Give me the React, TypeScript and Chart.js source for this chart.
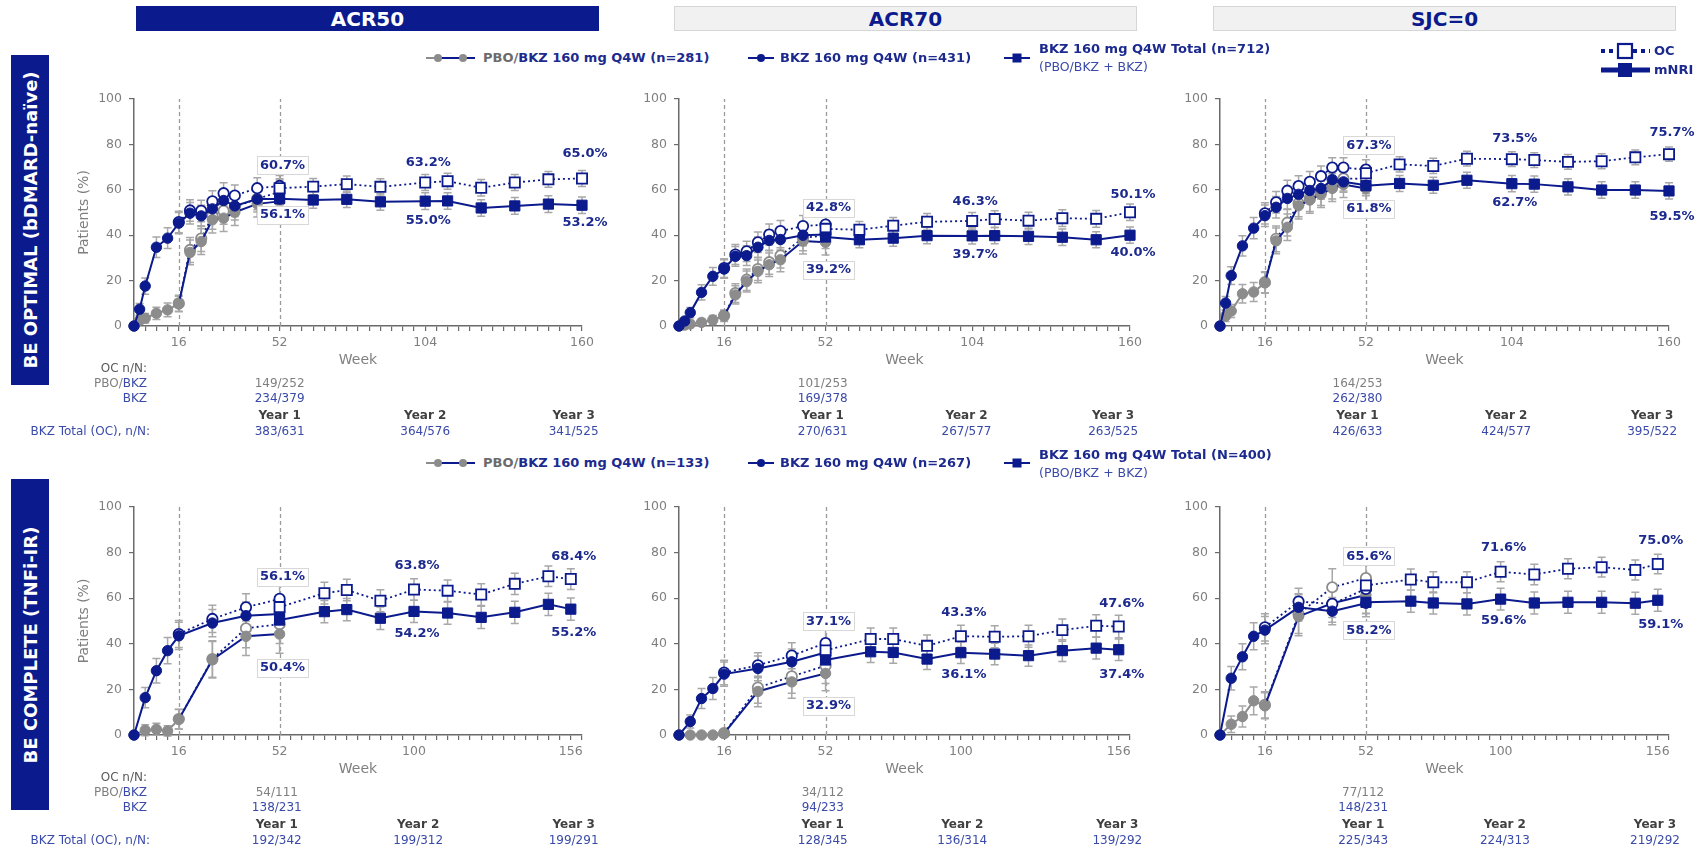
import React, { useEffect, useRef } from 'react';
import { Chart, registerables } from 'chart.js';

Chart.register(...registerables);

const NAVY = '#0b1a8c';
const NAVY_TEXT = '#1c2a8e';
const TABLE_BLUE = '#3a4aa8';
const GRAY_MARK = '#8c8c8c';
const GRAY_ERR = '#a8a8a8';
const GRAY_TEXT = '#7f7f7f';
const AXIS_COLOR = '#6a6a6a';
const FONT = "'DejaVu Sans', Verdana, sans-serif";

// ---------- weeks ----------
const WEEKS_OPT = [0, 2, 4, 8, 12, 16, 20, 24, 28, 32, 36, 44, 52];
const WEEKS_OPT_SJC = [0, 2, 4, 8, 12, 16, 20, 24, 28, 32, 36, 40, 44, 52];
const WEEKS_OPT_TOTAL = [52, 64, 76, 88, 104, 112, 124, 136, 148, 160];
const WEEKS_COMP = [0, 4, 8, 12, 16, 28, 40, 52];
const WEEKS_COMP_TOTAL = [52, 68, 76, 88, 100, 112, 124, 136, 148, 156];

const X_LABELS_OPT = [16, 52, 104, 160];
const X_LABELS_COMP = [16, 52, 100, 156];
const LABEL_WEEKS_OPT = [52, 104, 160];
const LABEL_WEEKS_COMP = [52, 100, 156];
const DASH_WEEKS = [16, 52];
const YEAR_NAMES = ['Year 1', 'Year 2', 'Year 3'];

// group sizes: PBO/BKZ, BKZ, Total
const N_OPT = [281, 431, 712];
const N_COMP = [133, 267, 400];

// ---------- BE OPTIMAL : ACR50 ----------
const OPT_ACR50_PBO_NRI = [0, 2.6, 3.4, 5.6, 7.1, 9.7, 32.4, 37.2, 46.8, 47.5, 50.1, 53.8, 54.9];
const OPT_ACR50_PBO_OC = [null, null, null, null, null, 10.0, 33.5, 38.5, 48.5, 50.7, 52.5, 56.0, 59.1];
const OPT_ACR50_BKZ_NRI = [0, 7.4, 17.6, 34.7, 38.7, 45.3, 49.7, 48.5, 51.6, 55.3, 52.9, 55.9, 55.9];
const OPT_ACR50_BKZ_OC = [null, null, null, null, null, 45.8, 50.9, 50.7, 54.9, 58.5, 57.5, 60.7, 61.7];
const OPT_ACR50_TOT_OC = [60.7, 61.4, 62.5, 61.3, 63.2, 63.8, 60.9, 63.2, 64.6, 65.0];
const OPT_ACR50_TOT_NRI = [56.1, 55.5, 55.8, 54.7, 55.0, 55.1, 52.0, 52.9, 53.7, 53.2];
const OPT_ACR50_OC52 = ['149/252', '234/379'];
const OPT_ACR50_YEARS = ['383/631', '364/576', '341/525'];

// ---------- BE OPTIMAL : ACR70 ----------
const OPT_ACR70_PBO_NRI = [0, 0.4, 0.9, 1.6, 2.7, 4.4, 13.7, 19.6, 24.1, 27.0, 29.2, 37.4, 36.9];
const OPT_ACR70_PBO_OC = [null, null, null, null, null, 4.6, 14.5, 20.4, 25.1, 28.1, 31.0, 38.8, 39.9];
const OPT_ACR70_BKZ_NRI = [0, 2.2, 5.9, 14.8, 21.9, 25.1, 30.7, 31.0, 34.7, 37.7, 38.1, 40.0, 40.3];
const OPT_ACR70_BKZ_OC = [null, null, null, null, null, 25.5, 31.5, 32.9, 36.9, 40.3, 41.8, 44.0, 44.7];
const OPT_ACR70_TOT_OC = [42.8, 42.4, 44.2, 45.9, 46.3, 47.1, 46.4, 47.5, 47.2, 50.1];
const OPT_ACR70_TOT_NRI = [39.2, 38.0, 38.7, 39.8, 39.7, 39.8, 39.5, 39.1, 38.0, 40.0];
const OPT_ACR70_OC52 = ['101/253', '169/378'];
const OPT_ACR70_YEARS = ['270/631', '267/577', '263/525'];

// ---------- BE OPTIMAL : SJC=0 ----------
const OPT_SJC_PBO_NRI = [0, 4.4, 6.6, 14.2, 15.0, 19.0, 37.5, 43.5, 53.0, 55.5, 58.0, 60.6, 62.3, 60.6];
const OPT_SJC_PBO_OC = [null, null, null, null, null, 19.3, 38.4, 45.5, 54.0, 56.2, 58.8, 61.6, 65.0, 64.8];
const OPT_SJC_BKZ_NRI = [0, 10.1, 22.2, 35.3, 43.1, 48.6, 52.3, 56.2, 58.0, 59.7, 60.6, 64.5, 63.5, 62.0];
const OPT_SJC_BKZ_OC = [null, null, null, null, null, 49.6, 54.5, 59.6, 61.6, 63.5, 66.0, 69.8, 69.8, 68.9];
const OPT_SJC_TOT_OC = [67.3, 71.2, 70.5, 73.7, 73.5, 73.1, 72.3, 72.6, 74.3, 75.7];
const OPT_SJC_TOT_NRI = [61.8, 62.8, 62.0, 64.2, 62.7, 62.5, 61.3, 59.9, 59.9, 59.5];
const OPT_SJC_OC52 = ['164/253', '262/380'];
const OPT_SJC_YEARS = ['426/633', '424/577', '395/522'];

// ---------- BE COMPLETE : ACR50 ----------
const COMP_ACR50_PBO_NRI = [0, 2.1, 2.5, 1.8, 6.9, 33.0, 43.3, 44.3];
const COMP_ACR50_PBO_OC = [null, null, null, null, 7.0, 33.3, 46.8, 48.6];
const COMP_ACR50_BKZ_NRI = [0, 16.4, 28.2, 37.0, 43.5, 49.1, 52.3, 53.1];
const COMP_ACR50_BKZ_OC = [null, null, null, null, 44.3, 50.9, 56.0, 59.7];
const COMP_ACR50_TOT_OC = [56.1, 62.2, 63.6, 58.9, 63.8, 63.3, 61.6, 66.3, 69.6, 68.4];
const COMP_ACR50_TOT_NRI = [50.4, 54.1, 55.0, 51.2, 54.2, 53.5, 51.6, 53.8, 57.3, 55.2];
const COMP_ACR50_OC52 = ['54/111', '138/231'];
const COMP_ACR50_YEARS = ['192/342', '199/312', '199/291'];

// ---------- BE COMPLETE : ACR70 ----------
const COMP_ACR70_PBO_NRI = [0, 0, 0, 0, 0.7, 19.1, 23.3, 27.0];
const COMP_ACR70_PBO_OC = [null, null, null, null, 0.8, 20.8, 25.7, 30.4];
const COMP_ACR70_BKZ_NRI = [0, 5.9, 16.0, 20.4, 26.7, 29.2, 32.1, 36.2];
const COMP_ACR70_BKZ_OC = [null, null, null, null, 27.4, 30.6, 34.8, 40.3];
const COMP_ACR70_TOT_OC = [37.1, 42.1, 42.1, 39.1, 43.3, 43.1, 43.3, 46.0, 47.9, 47.6];
const COMP_ACR70_TOT_NRI = [32.9, 36.5, 36.2, 33.3, 36.1, 35.5, 34.8, 37.0, 38.1, 37.4];
const COMP_ACR70_OC52 = ['34/112', '94/233'];
const COMP_ACR70_YEARS = ['128/345', '136/314', '139/292'];

// ---------- BE COMPLETE : SJC=0 ----------
const COMP_SJC_PBO_NRI = [0, 4.7, 8.1, 15.0, 12.8, 52.0, 57.8, 61.4];
const COMP_SJC_PBO_OC = [null, null, null, null, 13.2, 53.0, 64.8, 68.8];
const COMP_SJC_BKZ_NRI = [0, 24.9, 34.3, 43.3, 46.0, 56.0, 54.3, 57.8];
const COMP_SJC_BKZ_OC = [null, null, null, null, 47.2, 58.5, 57.5, 64.1];
const COMP_SJC_TOT_OC = [65.6, 68.2, 67.0, 67.0, 71.6, 70.4, 72.9, 73.6, 72.4, 75.0];
const COMP_SJC_TOT_NRI = [58.2, 58.7, 57.9, 57.5, 59.6, 57.9, 58.2, 58.2, 57.8, 59.1];
const COMP_SJC_OC52 = ['77/112', '148/231'];
const COMP_SJC_YEARS = ['225/343', '224/313', '219/292'];

type Vals = (number | null)[];
type PanelDef = {
  id: string;
  plotLeft: number; plotTop: number; plotW: number; plotH: number;
  yAxisW: number; rightPad: number; isLeft: boolean;
  weeks: number[]; totWeeks: number[];
  pboNri: Vals; pboOc: Vals; bkzNri: Vals; bkzOc: Vals; totOc: Vals; totNri: Vals;
  n: number[]; xLabels: number[]; labelWeeks: number[]; labelDy: number[][];
  oc52: string[]; years: string[]; yearX: number[];
};

const TOP_Y = 99, TOP_H = 227, BOT_Y = 507, BOT_H = 228;

const PANELS: PanelDef[] = [
  { id: 'a', plotLeft: 134, plotTop: TOP_Y, plotW: 448, plotH: TOP_H, yAxisW: 134, rightPad: 50, isLeft: true,
    weeks: WEEKS_OPT, totWeeks: WEEKS_OPT_TOTAL,
    pboNri: OPT_ACR50_PBO_NRI, pboOc: OPT_ACR50_PBO_OC, bkzNri: OPT_ACR50_BKZ_NRI, bkzOc: OPT_ACR50_BKZ_OC,
    totOc: OPT_ACR50_TOT_OC, totNri: OPT_ACR50_TOT_NRI, n: N_OPT, xLabels: X_LABELS_OPT,
    labelWeeks: LABEL_WEEKS_OPT, labelDy: [[-23, 16], [-20, 19], [-25, 17]],
    oc52: OPT_ACR50_OC52, years: OPT_ACR50_YEARS, yearX: [52, 104, 157] },
  { id: 'b', plotLeft: 679, plotTop: TOP_Y, plotW: 451, plotH: TOP_H, yAxisW: 70, rightPad: 50, isLeft: false,
    weeks: WEEKS_OPT, totWeeks: WEEKS_OPT_TOTAL,
    pboNri: OPT_ACR70_PBO_NRI, pboOc: OPT_ACR70_PBO_OC, bkzNri: OPT_ACR70_BKZ_NRI, bkzOc: OPT_ACR70_BKZ_OC,
    totOc: OPT_ACR70_TOT_OC, totNri: OPT_ACR70_TOT_NRI, n: N_OPT, xLabels: X_LABELS_OPT,
    labelWeeks: LABEL_WEEKS_OPT, labelDy: [[-21, 33], [-19.5, 19], [-18, 17]],
    oc52: OPT_ACR70_OC52, years: OPT_ACR70_YEARS, yearX: [51, 102, 154] },
  { id: 'c', plotLeft: 1220, plotTop: TOP_Y, plotW: 449, plotH: TOP_H, yAxisW: 70, rightPad: 35, isLeft: false,
    weeks: WEEKS_OPT_SJC, totWeeks: WEEKS_OPT_TOTAL,
    pboNri: OPT_SJC_PBO_NRI, pboOc: OPT_SJC_PBO_OC, bkzNri: OPT_SJC_BKZ_NRI, bkzOc: OPT_SJC_BKZ_OC,
    totOc: OPT_SJC_TOT_OC, totNri: OPT_SJC_TOT_NRI, n: N_OPT, xLabels: X_LABELS_OPT,
    labelWeeks: LABEL_WEEKS_OPT, labelDy: [[-28, 23], [-21, 19], [-21.5, 26]],
    oc52: OPT_SJC_OC52, years: OPT_SJC_YEARS, yearX: [49, 102, 154] },
  { id: 'd', plotLeft: 134, plotTop: BOT_Y, plotW: 448, plotH: BOT_H, yAxisW: 134, rightPad: 50, isLeft: true,
    weeks: WEEKS_COMP, totWeeks: WEEKS_COMP_TOTAL,
    pboNri: COMP_ACR50_PBO_NRI, pboOc: COMP_ACR50_PBO_OC, bkzNri: COMP_ACR50_BKZ_NRI, bkzOc: COMP_ACR50_BKZ_OC,
    totOc: COMP_ACR50_TOT_OC, totNri: COMP_ACR50_TOT_NRI, n: N_COMP, xLabels: X_LABELS_COMP,
    labelWeeks: LABEL_WEEKS_COMP, labelDy: [[-30, 48], [-24, 22.5], [-22, 23.5]],
    oc52: COMP_ACR50_OC52, years: COMP_ACR50_YEARS, yearX: [51, 101.5, 157] },
  { id: 'e', plotLeft: 679, plotTop: BOT_Y, plotW: 451, plotH: BOT_H, yAxisW: 70, rightPad: 50, isLeft: false,
    weeks: WEEKS_COMP, totWeeks: WEEKS_COMP_TOTAL,
    pboNri: COMP_ACR70_PBO_NRI, pboOc: COMP_ACR70_PBO_OC, bkzNri: COMP_ACR70_BKZ_NRI, bkzOc: COMP_ACR70_BKZ_OC,
    totOc: COMP_ACR70_TOT_OC, totNri: COMP_ACR70_TOT_NRI, n: N_COMP, xLabels: X_LABELS_COMP,
    labelWeeks: LABEL_WEEKS_COMP, labelDy: [[-29, 46], [-23.5, 22], [-23, 24.5]],
    oc52: COMP_ACR70_OC52, years: COMP_ACR70_YEARS, yearX: [51, 100.5, 155.5] },
  { id: 'f', plotLeft: 1220, plotTop: BOT_Y, plotW: 449, plotH: BOT_H, yAxisW: 70, rightPad: 35, isLeft: false,
    weeks: WEEKS_COMP, totWeeks: WEEKS_COMP_TOTAL,
    pboNri: COMP_SJC_PBO_NRI, pboOc: COMP_SJC_PBO_OC, bkzNri: COMP_SJC_BKZ_NRI, bkzOc: COMP_SJC_BKZ_OC,
    totOc: COMP_SJC_TOT_OC, totNri: COMP_SJC_TOT_NRI, n: N_COMP, xLabels: X_LABELS_COMP,
    labelWeeks: LABEL_WEEKS_COMP, labelDy: [[-29, 28], [-24.5, 22], [-23, 24]],
    oc52: COMP_SJC_OC52, years: COMP_SJC_YEARS, yearX: [51, 101.5, 155] },
];

const TOP_PAD = 30;
const XAXIS_H = 115;

function pts(weeks: number[], vals: Vals) {
  const out: { x: number; y: number }[] = [];
  weeks.forEach((w, i) => {
    const v = vals[i];
    if (v !== null && v !== undefined) out.push({ x: w, y: v });
  });
  return out;
}

const X_TICKS: number[] = [];
for (let w = 0; w <= 160; w += 4) X_TICKS.push(w);

function makePlugin(p: PanelDef, canvasLeft: number) {
  return {
    id: 'decor_' + p.id,
    beforeDatasetsDraw(chart: any) {
      const { ctx, scales } = chart;
      const x = scales.x, y = scales.y;
      ctx.save();
      ctx.strokeStyle = '#9a9a9a';
      ctx.lineWidth = 1.3;
      ctx.setLineDash([4, 3]);
      DASH_WEEKS.forEach((w) => {
        const px = Math.round(x.getPixelForValue(w)) + 0.5;
        ctx.beginPath();
        ctx.moveTo(px, y.getPixelForValue(0));
        ctx.lineTo(px, y.getPixelForValue(100));
        ctx.stroke();
      });
      ctx.setLineDash([]);
      ctx.strokeStyle = GRAY_ERR;
      ctx.lineWidth = 1.5;
      chart.data.datasets.forEach((ds: any, i: number) => {
        const meta = chart.getDatasetMeta(i);
        meta.data.forEach((el: any, j: number) => {
          const v = ds.data[j].y;
          const pr = v / 100;
          const h = 196 * Math.sqrt((pr * (1 - pr)) / ds.nSize);
          if (!(h > 0.3)) return;
          const px = el.x;
          const y1 = y.getPixelForValue(v - h);
          const y2 = y.getPixelForValue(v + h);
          ctx.beginPath();
          ctx.moveTo(px, y1); ctx.lineTo(px, y2);
          ctx.moveTo(px - 4, y1); ctx.lineTo(px + 4, y1);
          ctx.moveTo(px - 4, y2); ctx.lineTo(px + 4, y2);
          ctx.stroke();
        });
      });
      ctx.restore();
    },
    afterDatasetsDraw(chart: any) {
      const { ctx, scales } = chart;
      const x = scales.x, y = scales.y;
      ctx.save();
      ctx.font = `bold 13px ${FONT}`;
      ctx.textAlign = 'center';
      ctx.textBaseline = 'middle';
      p.labelWeeks.forEach((w, k) => {
        const idx = p.totWeeks.indexOf(w);
        const pair = [p.totOc[idx] as number, p.totNri[idx] as number];
        pair.forEach((v, m) => {
          const t = v.toFixed(1) + '%';
          const px = x.getPixelForValue(w) + 3;
          const py = y.getPixelForValue(v) + p.labelDy[k][m];
          if (w === 52) {
            const tw = ctx.measureText(t).width;
            ctx.fillStyle = '#ffffff';
            ctx.fillRect(px - tw / 2 - 3, py - 9, tw + 6, 18);
            ctx.strokeStyle = '#d8d8d8';
            ctx.lineWidth = 1;
            ctx.strokeRect(Math.round(px - tw / 2 - 3) + 0.5, Math.round(py - 9) + 0.5, Math.round(tw + 6), 18);
          }
          ctx.fillStyle = NAVY_TEXT;
          ctx.fillText(t, px, py);
        });
      });
      ctx.restore();
    },
    afterDraw(chart: any) {
      const { ctx, chartArea: a, scales } = chart;
      const x = scales.x;
      const b = a.bottom;
      ctx.save();
      ctx.textBaseline = 'middle';
      ctx.textAlign = 'center';
      ctx.font = `14px ${FONT}`;
      ctx.fillStyle = GRAY_TEXT;
      ctx.fillText('Week', (a.left + a.right) / 2, b + 34);
      if (p.isLeft) {
        ctx.save();
        ctx.translate(84 - canvasLeft, (a.top + a.bottom) / 2);
        ctx.rotate(-Math.PI / 2);
        ctx.fillText('Patients (%)', 0, 0);
        ctx.restore();
        ctx.font = `12px ${FONT}`;
        ctx.textAlign = 'right';
        const rx = 147 - canvasLeft;
        ctx.fillStyle = '#595959';
        ctx.fillText('OC n/N:', rx, b + 43);
        ctx.fillStyle = TABLE_BLUE;
        ctx.fillText('BKZ', rx, b + 57.5);
        const wB = ctx.measureText('BKZ').width;
        ctx.fillStyle = GRAY_TEXT;
        ctx.fillText('PBO/', rx - wB, b + 57.5);
        ctx.fillStyle = TABLE_BLUE;
        ctx.fillText('BKZ', rx, b + 73);
        ctx.fillText('BKZ Total (OC), n/N:', 150 - canvasLeft, b + 105.5);
      }
      ctx.textAlign = 'center';
      ctx.font = `12px ${FONT}`;
      const x1 = x.getPixelForValue(p.yearX[0]);
      ctx.fillStyle = GRAY_TEXT;
      ctx.fillText(p.oc52[0], x1, b + 57.5);
      ctx.fillStyle = TABLE_BLUE;
      ctx.fillText(p.oc52[1], x1, b + 73);
      YEAR_NAMES.forEach((nm, i) => {
        const xi = x.getPixelForValue(p.yearX[i]);
        ctx.font = `bold 12px ${FONT}`;
        ctx.fillStyle = '#404040';
        ctx.fillText(nm, xi, b + 89.5);
        ctx.font = `12px ${FONT}`;
        ctx.fillStyle = TABLE_BLUE;
        ctx.fillText(p.years[i], xi, b + 105.5);
      });
      ctx.restore();
    },
  };
}

function PanelChart({ p }: { p: PanelDef }) {
  const ref = useRef<HTMLCanvasElement>(null);
  const left = p.plotLeft - p.yAxisW;
  const top = p.plotTop - TOP_PAD;
  const width = p.yAxisW + p.plotW + p.rightPad;
  const height = TOP_PAD + p.plotH + XAXIS_H;

  useEffect(() => {
    if (!ref.current) return;
    const segColor = (c: any) => (c.p0.parsed.x >= 16 ? NAVY : GRAY_MARK);
    const common = { tension: 0, clip: false as any, spanGaps: false };
    const R = 5.2;
    const datasets: any[] = [
      { ...common, label: 'Total mNRI', data: pts(p.totWeeks, p.totNri), borderColor: NAVY, borderWidth: 2,
        pointStyle: 'rect', pointRadius: 7.2, pointBackgroundColor: NAVY, pointBorderColor: NAVY, pointBorderWidth: 1,
        order: 0, nSize: p.n[2] },
      { ...common, label: 'Total OC', data: pts(p.totWeeks, p.totOc), borderColor: NAVY, borderWidth: 1.8, borderDash: [2, 3],
        pointStyle: 'rect', pointRadius: 7.2, pointBackgroundColor: '#ffffff', pointBorderColor: NAVY, pointBorderWidth: 1.8,
        order: 1, nSize: p.n[2] },
      { ...common, label: 'BKZ mNRI', data: pts(p.weeks, p.bkzNri), borderColor: NAVY, borderWidth: 2,
        pointStyle: 'circle', pointRadius: R, pointBackgroundColor: NAVY, pointBorderColor: NAVY, pointBorderWidth: 1,
        order: 2, nSize: p.n[1] },
      { ...common, label: 'BKZ OC', data: pts(p.weeks, p.bkzOc), borderColor: NAVY, borderWidth: 1.8, borderDash: [2, 3],
        pointStyle: 'circle', pointRadius: R, pointBackgroundColor: '#ffffff', pointBorderColor: NAVY, pointBorderWidth: 1.8,
        order: 3, nSize: p.n[1] },
      { ...common, label: 'PBO/BKZ mNRI', data: pts(p.weeks, p.pboNri), borderColor: GRAY_MARK, borderWidth: 2,
        segment: { borderColor: segColor },
        pointStyle: 'circle', pointRadius: R, pointBackgroundColor: GRAY_MARK, pointBorderColor: GRAY_MARK, pointBorderWidth: 1,
        order: 4, nSize: p.n[0] },
      { ...common, label: 'PBO/BKZ OC', data: pts(p.weeks, p.pboOc), borderColor: GRAY_MARK, borderWidth: 1.8, borderDash: [2, 3],
        segment: { borderColor: segColor },
        pointStyle: 'circle', pointRadius: R, pointBackgroundColor: '#ffffff', pointBorderColor: GRAY_MARK, pointBorderWidth: 1.8,
        order: 5, nSize: p.n[0] },
    ];
    const chart = new Chart(ref.current, {
      type: 'line',
      data: { datasets },
      options: {
        animation: false,
        responsive: false,
        maintainAspectRatio: false,
        devicePixelRatio: 1,
        events: [],
        layout: { autoPadding: false, padding: { left: 0, top: TOP_PAD, right: p.rightPad, bottom: 0 } },
        plugins: { legend: { display: false }, tooltip: { enabled: false } },
        scales: {
          x: {
            type: 'linear', min: 0, max: 160,
            afterBuildTicks: (s: any) => { s.ticks = X_TICKS.map((v) => ({ value: v })); },
            afterFit: (s: any) => { s.height = XAXIS_H; },
            ticks: {
              autoSkip: false, maxRotation: 0, padding: 4, color: GRAY_TEXT,
              font: { family: FONT, size: 12.5 },
              callback: (v: any) => (p.xLabels.includes(Number(v)) ? String(v) : ''),
            },
            grid: { display: true, drawOnChartArea: false, drawTicks: true, tickLength: 5, color: AXIS_COLOR, lineWidth: 1.2 },
            border: { display: true, color: AXIS_COLOR, width: 1.5 },
          },
          y: {
            type: 'linear', min: 0, max: 100,
            afterFit: (s: any) => { s.width = p.yAxisW; },
            ticks: { stepSize: 20, padding: 7, color: GRAY_TEXT, font: { family: FONT, size: 12.5 } },
            grid: { display: true, drawOnChartArea: false, drawTicks: true, tickLength: 5, color: AXIS_COLOR, lineWidth: 1.2 },
            border: { display: true, color: AXIS_COLOR, width: 1.5 },
          },
        },
      } as any,
      plugins: [makePlugin(p, left)],
    });
    return () => chart.destroy();
  }, []);

  return (
    <canvas
      ref={ref}
      width={width}
      height={height}
      style={{ position: 'absolute', left, top, width, height }}
    />
  );
}

function Header({ text, left, dark }: { text: string; left: number; dark: boolean }) {
  return (
    <div
      style={{
        position: 'absolute', left, top: 6, width: 463, height: 25, boxSizing: 'border-box',
        background: dark ? NAVY : '#f1f1f1', border: dark ? 'none' : '1px solid #d6d6d6',
        color: dark ? '#ffffff' : NAVY, font: `bold 20px ${FONT}`,
        display: 'flex', alignItems: 'center', justifyContent: 'center',
      }}
    >
      {text}
    </div>
  );
}

function SideBox({ text, top, height }: { text: string; top: number; height: number }) {
  return (
    <div style={{ position: 'absolute', left: 11, top, width: 38, height, background: NAVY }}>
      <div
        style={{
          position: 'absolute', left: '50%', top: '50%', whiteSpace: 'nowrap',
          transform: 'translate(-50%, -50%) rotate(-90deg)', color: '#ffffff',
          font: `bold 18px ${FONT}`,
        }}
      >
        {text}
      </div>
    </div>
  );
}

function Txt({ x, y, children, bold = true, size = 13, color = NAVY_TEXT }: any) {
  return (
    <div
      style={{
        position: 'absolute', left: x, top: y - 8, height: 16, lineHeight: '16px', whiteSpace: 'nowrap',
        font: `${bold ? 'bold ' : ''}${size}px ${FONT}`, color,
      }}
    >
      {children}
    </div>
  );
}

function LegendRow({ y, n, totalSymbol }: { y: number; n: number[]; totalSymbol: string }) {
  return (
    <>
      <svg style={{ position: 'absolute', left: 424, top: y - 6 }} width={52} height={12}>
        <line x1={2} y1={6} x2={14} y2={6} stroke={GRAY_MARK} strokeWidth={2} />
        <line x1={14} y1={6} x2={51} y2={6} stroke={NAVY} strokeWidth={2} />
        <circle cx={14} cy={6} r={4} fill={GRAY_MARK} />
        <circle cx={39} cy={6} r={4} fill={GRAY_MARK} />
      </svg>
      <Txt x={483} y={y}>
        <span style={{ color: '#6b6b6b' }}>PBO/</span>BKZ 160 mg Q4W (n={n[0]})
      </Txt>
      <svg style={{ position: 'absolute', left: 746, top: y - 6 }} width={30} height={12}>
        <line x1={2} y1={6} x2={28} y2={6} stroke={NAVY} strokeWidth={2} />
        <circle cx={15} cy={6} r={4} fill={NAVY} />
      </svg>
      <Txt x={780} y={y}>BKZ 160 mg Q4W (n={n[1]})</Txt>
      <svg style={{ position: 'absolute', left: 1002, top: y - 6 }} width={30} height={12}>
        <line x1={2} y1={6} x2={28} y2={6} stroke={NAVY} strokeWidth={2} />
        <rect x={10.5} y={1.5} width={9} height={9} fill={NAVY} />
      </svg>
      <Txt x={1039} y={y - 8.5}>BKZ 160 mg Q4W Total ({totalSymbol}={n[2]})</Txt>
      <Txt x={1039} y={y + 9.5} bold={false} size={12.5} color={TABLE_BLUE}>(PBO/BKZ + BKZ)</Txt>
    </>
  );
}

function OcLegend() {
  return (
    <>
      <svg style={{ position: 'absolute', left: 1598, top: 40 }} width={55} height={40}>
        <line x1={3} y1={11} x2={52} y2={11} stroke={NAVY} strokeWidth={4} strokeDasharray="4 4" />
        <rect x={20} y={4} width={14} height={14} fill="#ffffff" stroke={NAVY} strokeWidth={2.2} />
        <line x1={3} y1={30} x2={52} y2={30} stroke={NAVY} strokeWidth={5} />
        <rect x={20} y={23} width={14} height={14} fill={NAVY} />
      </svg>
      <Txt x={1654} y={51}>OC</Txt>
      <Txt x={1654} y={70}>mNRI</Txt>
    </>
  );
}

export default function App() {
  return (
    <div
      style={{
        position: 'absolute', left: 0, top: 0, width: 1704, height: 850, overflow: 'hidden',
        background: '#ffffff', fontFamily: FONT,
      }}
    >
      {PANELS.map((p) => (
        <PanelChart key={p.id} p={p} />
      ))}
      <Header text="ACR50" left={136} dark={true} />
      <Header text="ACR70" left={674} dark={false} />
      <Header text="SJC=0" left={1213} dark={false} />
      <SideBox text="BE OPTIMAL (bDMARD-naïve)" top={55} height={330} />
      <SideBox text="BE COMPLETE (TNFi-IR)" top={479} height={331} />
      <LegendRow y={57.5} n={N_OPT} totalSymbol="n" />
      <LegendRow y={463} n={N_COMP} totalSymbol="N" />
      <OcLegend />
    </div>
  );
}
